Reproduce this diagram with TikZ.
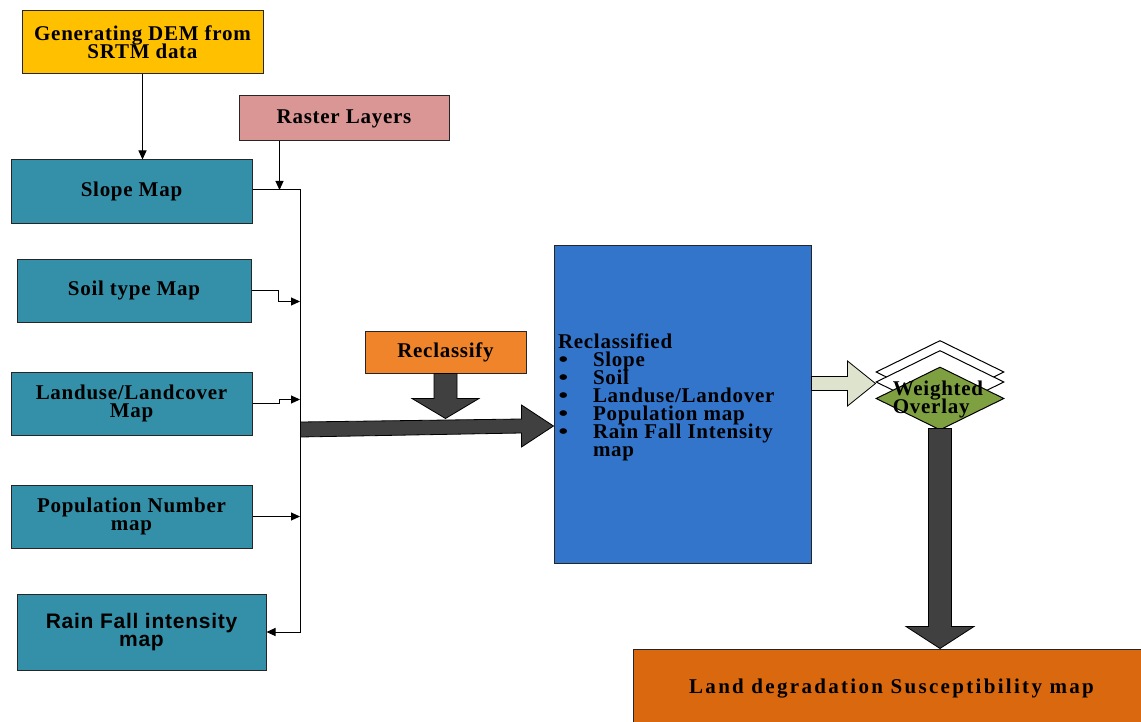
\documentclass[tikz,border=0pt]{standalone}
\usepackage{fontspec}
\setmainfont{Liberation Serif}[LetterSpace=3.5]
\newfontfamily\arialfont{Liberation Sans}[LetterSpace=3.5]
\newfontfamily\widefont{Liberation Serif}[LetterSpace=11]
\definecolor{demgold}{RGB}{255,192,0}
\definecolor{rasterpink}{RGB}{217,150,148}
\definecolor{mapteal}{RGB}{52,144,168}
\definecolor{reclassorange}{RGB}{240,132,42}
\definecolor{reclassblue}{RGB}{52,117,204}
\definecolor{overlaygreen}{RGB}{126,160,64}
\definecolor{resultorange}{RGB}{217,104,14}
\definecolor{paleolive}{RGB}{221,227,204}
\definecolor{darkgrey}{RGB}{64,64,64}
\usetikzlibrary{calc, positioning, arrows.meta, shapes.geometric}
\newcommand\tightfont{\fontsize{10.5}{9}\selectfont\bfseries\setlength{\lineskiplimit}{-20pt}}
\newcommand\listbullet{\makebox[17.5pt][l]{\hspace{0.3pt}\scalebox{1.3}[1]{\textbullet}}}

\begin{document}
\begin{tikzpicture}[
  x=0.5pt, y=-0.5pt,
  box/.style={draw=black!85, line width=0.5pt, inner sep=0pt, align=center,
    font=\tightfont},
  mapbox/.style={box, fill=mapteal},
  link/.style={draw=black, line width=0.5pt, -{Triangle[length=4.5pt,width=4pt]}},
  blockarrow/.style={draw=black, line width=0.4pt, fill=darkgrey},
  layer/.style={diamond, draw=black, line width=0.5pt, fill=white,
    minimum width=64pt, minimum height=31.5pt, inner sep=0pt},
]
  \useasboundingbox (0,0) rectangle (1141,722);

  \node[box, fill=demgold, minimum width=120.5pt, minimum height=31.5pt] (dem) at (142.5,42.5) {Generating DEM from\\SRTM data};
  \node[box, fill=rasterpink, minimum width=105pt, minimum height=22.5pt] (raster) at (344,118.5) {Raster Layers};
  \node[mapbox, minimum width=120.5pt, minimum height=31.5pt] (slope) at (131.5,191.5) {Slope Map};
  \node[mapbox, minimum width=117pt, minimum height=31.5pt] (soil) at (134,290.5) {Soil type Map};
  \node[mapbox, minimum width=120.5pt, minimum height=31.5pt] (landuse) at (131.5,403.5) {Landuse/Landcover\\Map};
  \node[mapbox, minimum width=120.5pt, minimum height=31.5pt] (population) at (131.5,516.5) {Population Number\\map};
  \node[mapbox, minimum width=124.5pt, minimum height=38pt, font=\tightfont\arialfont] (rain) at (141.5,632) {Rain Fall intensity\\map};
  \node[box, fill=reclassorange, minimum width=80.5pt, minimum height=21pt] (reclassify) at (445.5,352) {Reclassify};
  \node[box, fill=reclassblue, minimum width=128.5pt, minimum height=159pt] (reclassified) at (682.5,404) {};
  \node[box, fill=resultorange, minimum width=258.5pt, minimum height=40pt, font=\tightfont\widefont] (result) at (891.5,689) {Land degradation Susceptibility map};

  \node[box, draw=none, fill=none, anchor=north west, align=left] (reclasstext) at ([xshift=2pt, yshift=35.5pt]reclassified.west) {Reclassified\\
    \listbullet Slope\\
    \listbullet Soil\\
    \listbullet Landuse/Landover\\
    \listbullet Population map\\
    \listbullet Rain Fall Intensity\\
    \hspace*{17.5pt}map};

  \node[layer] (layer1) at (940,372) {};
  \node[layer] (layer2) at (940,382) {};
  \node[layer, fill=overlaygreen] (overlay) at (940,398.5) {};
  \node[box, draw=none, fill=none, align=left] (overlaytext) at (938,399) {Weighted\\Overlay};

  \coordinate (bus) at (300,0);
  \draw[link] (dem.south) -- (dem.south |- slope.north);
  \draw[link] ([xshift=20.5pt]raster.south west) -- ([xshift=20.5pt]raster.south west |- 0,190);
  \draw[link] (slope.east |- 0,190) -- (bus |- 0,190) -- (rain.east -| bus) -- (rain.east);
  \draw[link] (soil.east) -- ++(27,0) |- ($(soil.east -| bus)+(0,11)$);
  \draw[link] (landuse.east) -- ++(27,0) |- ($(landuse.east -| bus)+(0,-4)$);
  \draw[link] (population.east) -- (population.east -| bus);

  \draw[blockarrow] ([xshift=-5.75pt]reclassify.south) -- ++(0,25) -- ++(-22,0) -- ++(33.5,20) -- ++(33.5,-20) -- ++(-22,0) -- ++(0,-25) -- cycle;
  \draw[blockarrow] ([yshift=-11pt]reclassified.west) -- ++(-32,-21) -- ++(0,14) -- ++(-221,3) -- ++(0,15) -- ++(221,-4) -- ++(0,14) -- cycle;
  \draw[blockarrow, fill=paleolive] ([yshift=7.5pt]overlay.west) -- ++(-28,-22.5) -- ++(0,15.5) -- ++(-36,0) -- ++(0,14) -- ++(36,0) -- ++(0,15.5) -- cycle;
  \draw[blockarrow] (overlay.south |- result.north) -- ++(-34,-22) -- ++(22.5,0) -- ++(0,-198) -- ++(23,0) -- ++(0,198) -- ++(22.5,0) -- cycle;
\end{tikzpicture}
\end{document}
